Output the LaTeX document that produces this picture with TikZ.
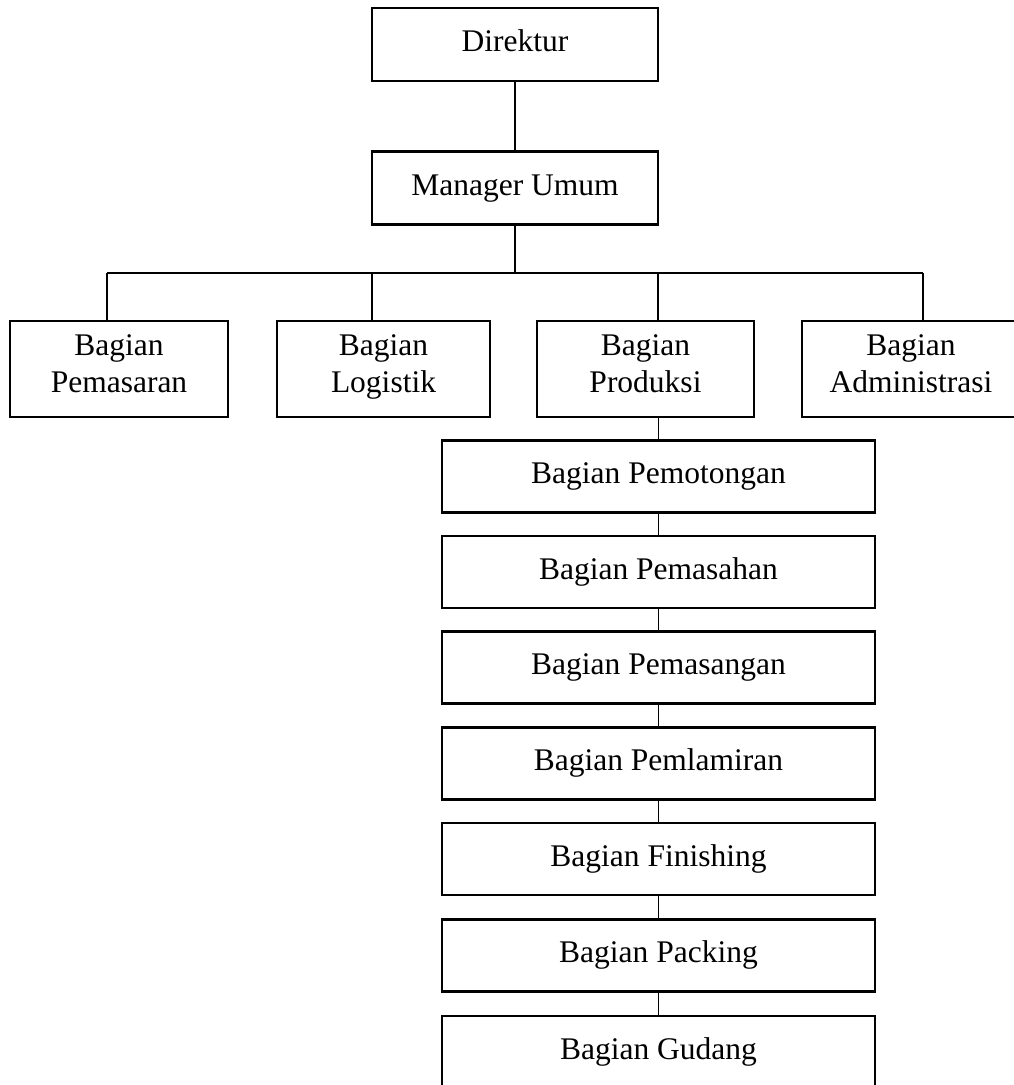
\documentclass[tikz,border=0pt]{standalone}
\usepackage{fontspec}
\setmainfont{Liberation Serif}
\begin{document}
\begin{tikzpicture}[x=1pt,y=-1pt,
  unit/.style={draw=black, line width=2.2pt, rectangle, inner sep=0pt,
    align=center, font=\fontsize{31.5}{37}\selectfont,
    execute at end node=\strut},
  top/.style={unit, minimum width=286pt, minimum height=73pt},
  dept/.style={unit, minimum height=96pt},
  sect/.style={unit, minimum width=433pt, minimum height=72pt},
  link/.style={line width=1.8pt}]
\fill[white] (0,0) rectangle (1014,1085);
\useasboundingbox (0,0) rectangle (1014,1085);
\clip (0,0) rectangle (1014,1085);

% top management
\node[top] (dir) at (515,44.5) {Direktur};
\node[top] (mgr) at (515,188) {Manager Umum};

% departments
\node[dept, minimum width=218pt] (pem) at (119,369) {Bagian\\Pemasaran};
\node[dept, minimum width=213pt] (log) at (383.5,369) {Bagian\\Logistik};
\node[dept, minimum width=217pt] (pro) at (645.5,369) {Bagian\\Produksi};
\node[dept, minimum width=218pt] (adm) at (911,369) {Bagian\\Administrasi};

% production sections
\node[sect] (pot)  at (658.5,476.5) {Bagian Pemotongan};
\node[sect] (sah)  at (658.5,572)   {Bagian Pemasahan};
\node[sect] (sang) at (658.5,667.5) {Bagian Pemasangan};
\node[sect] (lam)  at (658.5,763.5) {Bagian Pemlamiran};
\node[sect] (fin)  at (658.5,859)   {Bagian Finishing};
\node[sect] (pack) at (658.5,955.5) {Bagian Packing};
\node[sect] (gud)  at (658.5,1052)  {Bagian Gudang};

% bus line below the general manager
\coordinate (b1) at (107,273);
\coordinate (b2) at (372,273);
\coordinate (b3) at (658,273);
\coordinate (b4) at (923,273);

\draw[link] (dir.south) -- (mgr.north);
\draw[link] (mgr.south) -- (mgr.south |- b1);
\draw[link] (b1) -- (b4);
\draw[link] (b1) -- (b1 |- pem.north);
\draw[link] (b2) -- (b2 |- log.north);
\draw[link] (b3) -- (b3 |- pro.north);
\draw[link] (b4) -- (b4 |- adm.north);

\draw[link] (pot.north |- pro.south) -- (pot.north);
\draw[link] (pot.south) -- (sah.north);
\draw[link] (sah.south) -- (sang.north);
\draw[link] (sang.south) -- (lam.north);
\draw[link] (lam.south) -- (fin.north);
\draw[link] (fin.south) -- (pack.north);
\draw[link] (pack.south) -- (gud.north);
\end{tikzpicture}
\end{document}
